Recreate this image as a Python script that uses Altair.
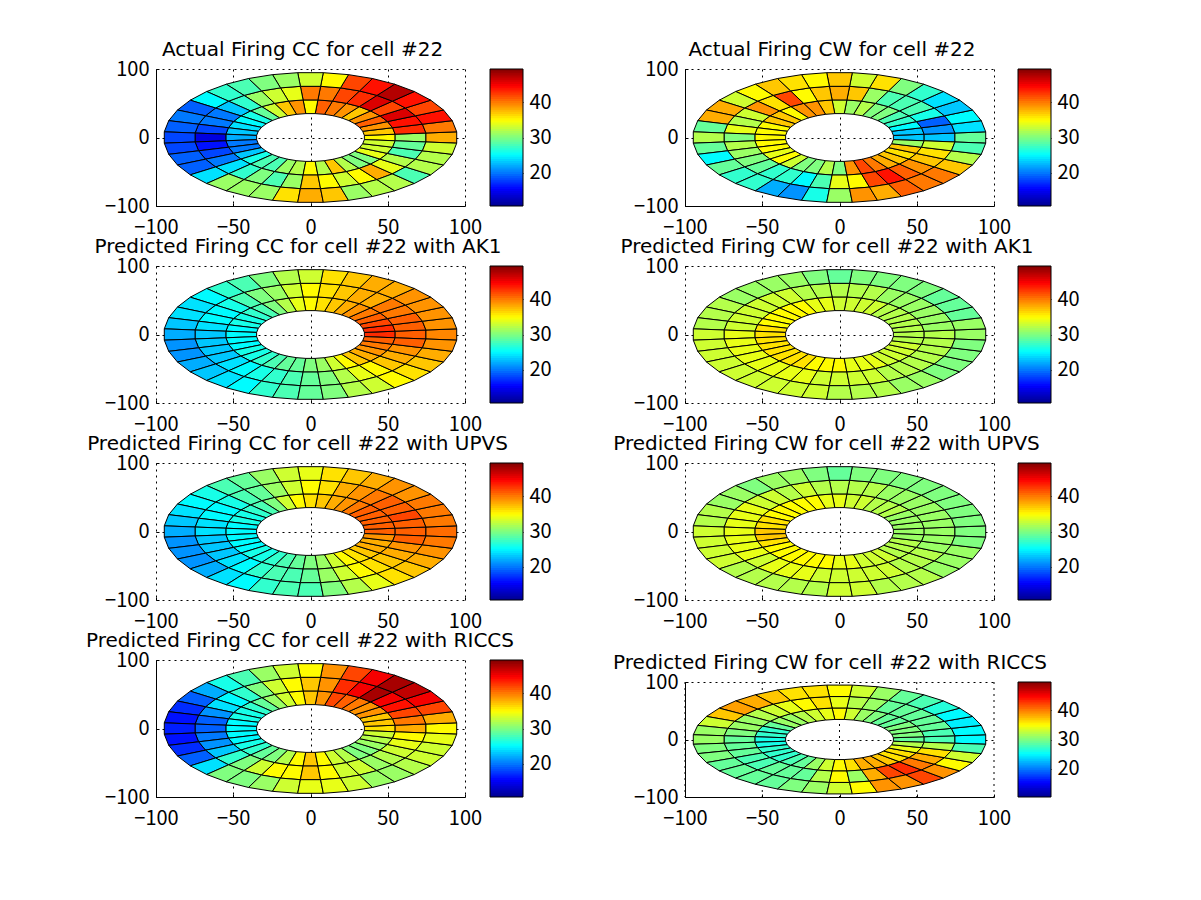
import math

import altair as alt
import pandas as pd

TICK_FONT = "Noto Sans CJK JP"
TITLE_FONT = "DejaVu Sans"
VMIN, VMAX = 10.5, 49.5
R_EDGES = [35, 55, 75, 95]
X_TICKS = [-100, -50, 0, 50, 100]
Y_TICKS = [-100, 0, 100]

TITLES = [
    "Actual Firing CC for cell #22", "Actual Firing CW for cell #22",
    "Predicted Firing CC for cell #22 with AK1", "Predicted Firing CW for cell #22 with AK1",
    "Predicted Firing CC for cell #22 with UPVS", "Predicted Firing CW for cell #22 with UPVS",
    "Predicted Firing CC for cell #22 with RICCS", "Predicted Firing CW for cell #22 with RICCS",
]
TITLE_DX = [-8, -7.5, -12.5, -12.5, -13, -13, -10.5, -9.5]

# each panel: inner, middle, outer ring; sectors centred on 0,10,...,350 degrees
P1 = [
 [35,37,39,41,39,37,39,40,41,35,39,37,33,29,26,25,24,23,22,20,20,23,26,28,28,31,32,35,32,37,32,30,30,34,33,33],
 [31,43,44,46,42,46,43,42,40,40,34,33,31,27,23,20,20,18,14,16,18,20,24,27,30,28,31,37,35,33,35,38,34,32,28,29],
 [38,40,44,42,44,47.5,44,42,35,33,31,30,28,27,25,19,20,19,18,18,19,19,24,31,31,31,36,38,37,31,32,32,28,32,32,33],
]
P2 = [
 [23,23,25,27,28,30,30,32,31,33,37,39,39,35,37,37,35,35,35,35,35,34,35,33,30,30,32,30,39,42,40,38,37,36,37,31],
 [23,21,19,26,28,28,28,31,37,38,37,35,42,36,39,33,32,34,30,32,31,30,29,27,27,25,28,34,35,42,44,41,39,37,36,33],
 [29,24,25,23,24,27,30,36,33,37,35,36,37,35,33,38,38,29,32,29,25,29,27,27,22,21,26,31,39,38,41,40,40,37,32,28],
]
P3 = [
 [43,43,42,41,40,39,38,37,36,35,34,32,30,28,27,26,26,25,25,25,25,26,26,27,28,29,29,30,31,33,35,37,38,39,40,41],
 [41,41,41,40,40,38,38,37,36,35,33,31,30,28,26,25,25,24,23,23,23,23,24,25,26,27,28,29,30,32,34,35,37,38,39,41],
 [39.5,39,39,39,39,38,38,37,36,33,32,30,28,27,25,24,24,23,22,21,21,22,23,24,25,27,28,29,30,32,33,35,36,37,38,39],
]
P4 = [
 [32,32,32,32,32,32,33,33,33,33,34,34,35,35,35,35,35,36,36,36,36,36,36,36,36,35,35,35,34,34,34,33,33,33,33,32],
 [32,31,31,31,31,31,31,32,32,32,32,32,33,33,33,33,33,33,34,34,34,34,34,34,34,34,33,33,33,33,32,32,32,32,32,32],
 [31,31,29,29,29,30,30,30,30,29,30,31,31,31,31,32,32,32,33,33,33,33,33,33,33,33,33,32,32,32,31,31,30,30,30,30],
]
P5 = [
 [41,41,41,41,41,40,39,38,37,36,35,33,30,28,27,26,26,25,25,25,25,25,26,26,27,28,29,30,31,33,35,36,37,38,38,39],
 [41,41,42,41,41,40,39,38,36,35,33,31,29,28,26,25,25,24,24,23,23,23,24,25,27,28,28,29,31,33,35,36,37,38,39,41],
 [40.5,40,40,40,39,39,38,37,36,34,33,31,29,28,26,25,24,23,22,21,21,21,22,24,25,27,28,28,30,32,34,36,37,38,39,40],
]
P6 = [
 [31,31,31,31,32,32,32,33,33,34,34,35,35,35,35,35,36,36,37,37,36,35,35,35,35,35,35,34,34,33,33,33,32,32,32,31],
 [31,31,31,31,31,31,31,32,32,32,32,33,32,33,33,34,34,34,34,34,34,34,33,34,34,34,33,33,33,33,33,32,32,32,31,31],
 [30,30,30,30,30,30,30,30,30,29,30,31,31,30,31,31,32,32,33,33,33,33,32,32,32,32,32,33,33,32,32,32,31,31,31,30],
]
P7 = [
 [36,37,37,39,39,40,41,42,39,37,35,33,31,29,27,26,26,25,25,25,25,26,27,29,30,32,35,37,35,33,32,30,30,31,32,33],
 [38,40,42,44,45,48,45,43,39,37,35,33,30,27,25,24,21,19,19,20,21,23,27,30,33,35,35,37,35,33,33,31,32,33,34,35],
 [35,38,42,45,47,48,45,42,39,35,33,31,28,26,22,19,17,16,16.5,16,17,19,24,30,30,31,33,34,34,33,31,31,32,33,33,34],
]
P8 = [
 [29,30,30,30,29,29,30,31,33,35,34,33,32,31,31,29,27,27,26,26,27,27,27,28,29,31,33,35,36,38,38,37,36,36,34,32],
 [28,28,29,29,29,29,29,31,32,34,36,35,34,33,32,31,31,30,29,29,29,28,28,29,29,29,32,35,31,38,42,43,40,38,36,32],
 [25,25,24.5,25,26.5,28,29,31,33,35,36,36,37,38,38.5,37,33,31,31,30,30,29,29,29,29,30,31,33,35,39,39,42,39,35,33,28],
]
PANELS = [P1, P2, P3, P4, P5, P6, P7, P8]

JET_STOPS = [0, .125, .375, .625, .875, 1]
JET_COLORS = ["#00008f", "#0000ff", "#00ffff", "#ffff00", "#ff0000", "#800000"]
jet = alt.Scale(domain=[VMIN + s * (VMAX - VMIN) for s in JET_STOPS], range=JET_COLORS, interpolate="rgb")


def cells(panel):
    rows = []
    for ring, vals in enumerate(panel):
        r0, r1 = R_EDGES[ring], R_EDGES[ring + 1]
        for s, v in enumerate(vals):
            a0, a1 = math.radians(s * 10 - 5), math.radians(s * 10 + 5)
            for k, (r, a) in enumerate([(r0, a0), (r1, a0), (r1, a1), (r0, a1)]):
                rows.append(dict(cell=f"{ring}-{s}", k=k, x=r * math.cos(a), y=r * math.sin(a), value=v))
    return pd.DataFrame(rows)


def panel_chart(i):
    short = i == 7
    solid = i in (0, 1, 6, 7)
    yr = [137, 22] if short else [137, 0]
    xs = alt.Scale(domain=[-100, 100], nice=False)
    ys = alt.Scale(domain=[-100, 100], nice=False, range=yr)
    grid = dict(gridDash=[2, 4], gridColor="black", gridOpacity=1, gridWidth=1,
                domain=solid, domainColor="black", ticks=False, title=None,
                labelFont=TICK_FONT, labelFontSize=20, labelColor="black",
                labelFlush=False, labelOverlap=False)
    main = alt.Chart(cells(PANELS[i])).mark_line(
        interpolate="linear-closed", stroke="black", strokeWidth=1
    ).encode(
        x=alt.X("x:Q", scale=xs, axis=alt.Axis(orient="bottom", values=X_TICKS, labelPadding=11, grid=not short, **grid)),
        y=alt.Y("y:Q", scale=ys, axis=alt.Axis(orient="left", values=Y_TICKS, labelPadding=7, grid=True, **grid)),
        detail="cell:N",
        order="k:Q",
        fill=alt.Fill("value:Q", scale=jet, legend=None),
    )
    tick = dict(title=None, labels=False, domain=False, grid=False, ticks=True, tickSize=3, tickColor="black", offset=-3)
    ticks = alt.Chart(pd.DataFrame(dict(x=[-100, 100], y=[-100, 100]))).mark_point(opacity=0).encode(
        x=alt.X("x:Q", scale=xs, axis=alt.Axis(orient="bottom", values=X_TICKS, **tick)),
        y=alt.Y("y:Q", scale=ys, axis=alt.Axis(orient="left", values=Y_TICKS, **tick)),
    )
    layers = [main, ticks]
    if short:
        # this panel is shorter than its grid cell, so its vertical grid stops at the top of the y range
        rules = alt.Chart(pd.DataFrame(dict(x=X_TICKS))).mark_rule(
            stroke="black", strokeWidth=1, strokeDash=[2, 4]
        ).encode(
            x=alt.X("x:Q", scale=xs, axis=None),
            y=alt.value(yr[1]), y2=alt.value(yr[0]),
        )
        layers = [rules, main, ticks]
    return alt.layer(*layers).resolve_axis(x="independent", y="independent").properties(
        width=309, height=137,
        title=alt.TitleParams(
            TITLES[i], font=TITLE_FONT, fontSize=20, fontWeight="normal", color="black",
            anchor="middle", offset=0, dx=TITLE_DX[i], dy=13 if short else 1),
    )


def bar_chart(i):
    short = i == 7
    left_col = i % 2 == 0
    x0, x1, w = (25, 58, 220) if left_col else (24, 57, 57)
    yr = [137, 22] if short else [137, 0]
    n = 64
    step = (VMAX - VMIN) / n
    lo = [VMIN + step * j for j in range(n)]
    hi = [min(VMAX, a + 2 * step) for a in lo]
    mid = [a + step / 2 for a in lo]
    df = pd.DataFrame(dict(lo=lo, hi=hi, mid=mid))
    ys = alt.Scale(domain=[VMIN, VMAX], nice=False, range=yr)
    rects = alt.Chart(df).mark_rect().encode(
        x=alt.value(x0), x2=alt.value(x1),
        y=alt.Y("lo:Q", scale=ys, axis=alt.Axis(
            orient="right", values=[20, 30, 40], title=None, grid=False, domain=False,
            offset=-(w - x1) - 4, tickSize=4, tickColor="black",
            labelFont=TICK_FONT, labelFontSize=20, labelColor="black", labelPadding=6)),
        y2="hi:Q",
        fill=alt.Fill("mid:Q", scale=jet, legend=None),
    )
    border = alt.Chart(pd.DataFrame(dict(lo=[VMIN], hi=[VMAX]))).mark_rect(
        fillOpacity=0, stroke="black", strokeWidth=1
    ).encode(x=alt.value(x0), x2=alt.value(x1), y=alt.Y("lo:Q", scale=ys), y2="hi:Q")
    return alt.layer(rects, border).properties(width=w, height=137)


charts = []
for i in range(8):
    charts.append(panel_chart(i))
    charts.append(bar_chart(i))

chart = alt.concat(
    *charts, columns=4, spacing=alt.RowColnumber(column=0, row=60), bounds="flush", align="each"
).resolve_scale(fill="independent").configure_view(strokeWidth=0).properties(
    padding={"left": 77, "top": 32, "right": 5, "bottom": 5}, background="white"
)

chart.save("out.html", embed_options={"renderer": "svg", "actions": False})
